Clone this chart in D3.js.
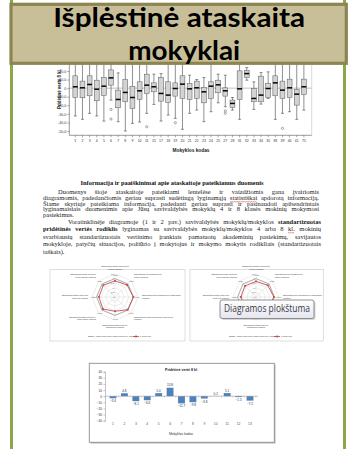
<!DOCTYPE html>
<html><head><meta charset="utf-8">
<script src="https://cdn.jsdelivr.net/npm/d3@7"></script>
<style>html,body{margin:0;padding:0;background:#fff;overflow:hidden}svg{display:block}</style>
</head><body>
<svg id="c" width="351" height="449"></svg>
<script>
// ---------------- DATA ----------------
const titleLines = ["Išplėstinė ataskaita", "mokyklai"];

const schoolCodes = ["1","2","3","4","5","6","7","8","9","10","11","15","17","18","19","20","21","22","23","24","25","27","28","31","32","33","34","35","38","39","40","41","75"];
const boxLow    = [-32.5,-36.4,-29.4,-32.5,-38.4,-14.0,-39.1,-50.0,-41.1,-39.5,-29.4,-19.0,-38.4,-31.4,-35.3,-48.0,-29.4,-25.6,-39.1,-27.5,-17.1,-21.7,-25.6,-36.4, 9.3,-24.8,-18.6,-12.0,-36.4,-29.4,-27.5,-36.4,-25.6];
const boxQ1     = [-10.9,-11.2, -8.9,-14.7, -8.5,  3.5,-22.9,-15.9,-23.6,-13.2, -6.2, -4.3,-15.1,-16.7, -9.3,-12.0,-13.2,-12.0,-17.1,-12.0, -5.4, -9.3,-22.5,-13.2,12.4,-15.9,-15.9,-10.9, -8.9,-12.0,-10.9,-19.8, -7.4];
const boxMedian = [  1.6,  0.4,  4.3, -1.2,  2.3, 12.0,-13.2, -5.0,-10.9, -3.1,  3.5,  1.6, -6.2, -8.1, -0.4,  4.7, -0.8,  0.4, -4.3,  2.3,  3.9, -3.1,-17.8, -0.8,17.0,-12.0, -8.1, -0.4,  6.2, -2.3,  0.4, -7.0,  1.6];
const boxQ3     = [ 14.4,  8.2, 14.4,  9.3, 12.4, 21.3, -2.3, 10.1,  2.0,  7.4, 16.3,  6.2, 12.4,  7.4,  6.2, 14.4,  5.4,  8.2,  0.8,  7.4,  9.3,  0.4,-13.9, 20.2,20.9, -0.4, 14.0,  5.4, 14.4,  8.2, 10.5, -1.5, 10.5];
const boxHigh   = [ 36.0, 30.0, 34.0, 29.0, 32.0, 38.0, 17.8, 35.0, 33.0, 32.0, 35.0, 16.3, 17.0, 30.0, 32.0, 36.0, 15.1, 10.1, 12.4, 30.0, 16.3, 15.1,-10.9, 35.0,24.0,  7.4, 18.2, 19.0, 33.0, 34.0, 31.0, 30.0, 30.0];
const boxOutliers = {"6":[-24.8,-36.0],"11":[-45.0],"19":[-40.3],"27":[-26.4,-29.4],"39":[-46.9]};
const boxYTicks = [20,10,0,-10,-20,-30,-40,-50];
const boxYTickLabels = ["20,0","10,0","0","-10,0","-20,0","-30,0","-40,0","-50,0"];
const boxYTitle = "Pridėtinė vertė 8 kl.";
const boxXTitle = "Mokyklos kodas";

const heading = "Informacija ir paaiškinimai apie ataskaitoje pateikiamus duomenis";
// *bold*  ~spelling-marked~
const para1 = [
  "Duomenys šioje ataskaitoje pateikiami lentelėse ir vaizdžiomis gana įvairiomis",
  "diagramomis, padedančiomis geriau suprasti sudėtingą lyginamąją ~statistiškai~ apdorotą informaciją.",
  "Šiame skyriuje pateikiama informacija, padedanti geriau suprasti ir pasinaudoti apibendrintais",
  "lyginamaisiais duomenimis apie Jūsų savivaldybės mokyklų 4 ir 8 klasės mokinių mokymosi",
  "pasiekimus."
];
const para2 = [
  "Voratinklinėje diagramoje (1 ir 2 pav.) savivaldybės mokyklų/mokyklos *standartizuotas*",
  "*pridėtinės vertės rodiklis* lyginamas su savivaldybės mokyklų/mokyklos 4 arba 8 ~kl.~ mokinių",
  "svarbiausių standartizuotais vertinimo įrankiais pamatuotų akademinių pasiekimų, savijautos",
  "mokykloje, patyčių situacijos, požiūrio į mokytojus ir mokymo mokytis rodikliais (standartizuotais",
  "taškais)."
];

const radarAxes = [
  ["Standartizuotas pridėtinės","vertės rodiklis"],
  ["Standartizuoti akademinių","testų rodikliai"],
  ["Standartizuoti akademinių pasiekimų","rodiklis"],
  ["Standartizuotas savijautos mokykloje","rodiklis"],
  ["Standartizuotas patyčių","situacijos rodiklis"],
  ["Standartizuotas požiūrio į","mokytojus rodiklis"],
  ["Standartizuotas mokymo","mokytis rodiklis"],
  ["Standartizuotas mokinių","motyvacijos rodiklis"]
];
const radarRingTicks = [-2,-1.5,-1,-0.5,0,0.5];
const radarAllSchools = [0,0,0,0,0,0,0,0];
const radarSchoolA = [-0.25,-0.15,0.0,-0.05,-0.45,-0.15,-0.25,-0.2];
const radarSchoolB = [-0.3,-0.2,-0.05,-0.25,-0.55,-0.3,-0.35,-0.3];
const radarLegend = ["Visos mokyklos (arba mokyklų) vidurkis","1 mokykla"];
const tooltipText = "Diagramos plokštuma";

const barTitle = "Pridėtinė vertė 8 kl.";
const barCats = ["1","2","3","4","5","6","7","8","9","10","11","12","13"];
const barValues = [-3.4,4.8,-8.1,-6.6,5.0,13.8,-11.7,-9.8,-3.8,0.2,5.1,-1.5,-7.2];
const barYTicks = [40,30,20,10,0,-10,-20,-30,-40];
const barXTitle = "Mokyklos kodas";

// ---------------- DRAW ----------------
const W = 351, H = 449;
// group opacity gives grayscale anti-aliasing for the tiny labels
const svg = d3.select("#c").append("g").attr("opacity", 0.999);
const SANS = "Arial, 'Liberation Sans', sans-serif";
const SERIF = "'Liberation Serif', 'Times New Roman', serif";

svg.append("rect").attr("width", W).attr("height", H).attr("fill", "#fff");
// page side borders
svg.append("rect").attr("x", 10).attr("y", 0).attr("width", 3).attr("height", H).attr("fill", "#8aa84a");
svg.append("rect").attr("x", 343).attr("y", 0).attr("width", 3).attr("height", H).attr("fill", "#8aa84a");

// ===== Box plot =====
const bx = d3.scaleBand().domain(schoolCodes).range([70.6, 308.6]).padding(0.32);
const by = d3.scaleLinear().domain([-55, 50]).range([135.3, 45.3]);
const gb = svg.append("g");
gb.append("line").attr("x1", 69.3).attr("x2", 311.7).attr("y1", by(0)).attr("y2", by(0))
  .attr("stroke", "#9a9a9a").attr("stroke-width", 0.6);
gb.append("line").attr("x1", 311.7).attr("x2", 311.7).attr("y1", 40).attr("y2", 135.3)
  .attr("stroke", "#cfcfcf").attr("stroke-width", 0.8);
schoolCodes.forEach((c, i) => {
  const x0 = bx(c), bw = bx.bandwidth(), cx = x0 + bw / 2;
  const ws = {stroke: "#444", "stroke-width": 0.6};
  const ln = (x1, y1, x2, y2, st) => { const l = gb.append("line").attr("x1", x1).attr("y1", y1).attr("x2", x2).attr("y2", y2); Object.entries(st).forEach(([k, v]) => l.attr(k, v)); };
  ln(cx, by(boxLow[i]), cx, by(boxQ1[i]), ws);
  ln(cx, by(boxQ3[i]), cx, by(boxHigh[i]), ws);
  ln(cx - bw * 0.3, by(boxLow[i]), cx + bw * 0.3, by(boxLow[i]), ws);
  ln(cx - bw * 0.3, by(boxHigh[i]), cx + bw * 0.3, by(boxHigh[i]), ws);
  gb.append("rect").attr("x", x0).attr("y", by(boxQ3[i])).attr("width", bw)
    .attr("height", by(boxQ1[i]) - by(boxQ3[i])).attr("fill", "#d3d3d3").attr("stroke", "#555").attr("stroke-width", 0.5);
  ln(x0, by(boxMedian[i]), x0 + bw, by(boxMedian[i]), {stroke: "#000", "stroke-width": 1.5});
  (boxOutliers[c] || []).forEach(v => {
    gb.append("circle").attr("cx", cx).attr("cy", by(v)).attr("r", 1.1).attr("fill", "none").attr("stroke", "#555").attr("stroke-width", 0.5);
  });
});
// axes
const yAx = gb.append("g").attr("transform", "translate(69.3,0)")
  .call(d3.axisLeft(by).tickValues(boxYTicks).tickSize(2).tickPadding(1).tickFormat((d, i) => boxYTickLabels[i]));
yAx.select(".domain").attr("d", `M0,40V135.3`).attr("stroke", "#555").attr("stroke-width", 0.6);
yAx.selectAll(".tick line").attr("stroke", "#555").attr("stroke-width", 0.5);
yAx.selectAll("text").attr("font-size", 3.6).attr("font-family", SANS).attr("fill", "#333");
const xAx = gb.append("g").attr("transform", "translate(0,135.3)")
  .call(d3.axisBottom(bx).tickSize(2).tickPadding(2));
xAx.select(".domain").attr("d", "M69.3,0H311.7").attr("stroke", "#555").attr("stroke-width", 0.6);
xAx.selectAll(".tick line").attr("stroke", "#555").attr("stroke-width", 0.5);
xAx.selectAll("text").attr("font-size", 3.5).attr("font-family", SANS).attr("fill", "#333");
gb.append("text").attr("transform", "translate(61,89) rotate(-90)").attr("text-anchor", "middle")
  .attr("font-size", 4.6).attr("font-weight", "bold").attr("font-family", SANS).attr("fill", "#222")
  .attr("textLength", 40).attr("lengthAdjust", "spacingAndGlyphs").text(boxYTitle);
gb.append("text").attr("x", 191).attr("y", 152).attr("text-anchor", "middle")
  .attr("font-size", 4.8).attr("font-weight", "bold").attr("font-family", SANS).attr("fill", "#222").text(boxXTitle);

// ===== Title banner =====
svg.append("rect").attr("x", 11).attr("y", 4.3).attr("width", 335.3).attr("height", 59)
  .attr("fill", "#c8bf98").attr("stroke", "#8c8551").attr("stroke-width", 3.2);
svg.append("text").attr("x", 179.2).attr("y", 27).attr("text-anchor", "middle")
  .attr("font-family", "Lato, 'Open Sans', sans-serif").attr("font-weight", "bold").attr("font-size", 27)
  .attr("textLength", 252).attr("lengthAdjust", "spacingAndGlyphs").attr("fill", "#000").text(titleLines[0]);
svg.append("text").attr("x", 184.2).attr("y", 59.5).attr("text-anchor", "middle")
  .attr("font-family", "Lato, 'Open Sans', sans-serif").attr("font-weight", "bold").attr("font-size", 27)
  .attr("textLength", 112).attr("lengthAdjust", "spacingAndGlyphs").attr("fill", "#000").text(titleLines[1]);

// ===== Text =====
const gt = svg.append("g");
gt.append("text").attr("x", 172).attr("y", 185).attr("text-anchor", "middle")
  .attr("font-family", SERIF).attr("font-weight", "bold").attr("font-size", 6.6).attr("fill", "#111")
  .attr("textLength", 183).attr("lengthAdjust", "spacingAndGlyphs").text(heading);

function parseLine(s) {
  let bold = false;
  return s.split(" ").map(w => {
    let spell = false;
    if (w.startsWith("*")) { bold = true; w = w.slice(1); }
    let endB = false;
    if (w.endsWith("*")) { endB = true; w = w.slice(0, -1); }
    if (w.startsWith("~") && w.endsWith("~")) { spell = true; w = w.slice(1, -1); }
    const o = {t: w, b: bold, s: spell};
    if (endB) bold = false;
    return o;
  });
}
function drawLine(str, x0, x1, y, size, justify) {
  const words = parseLine(str);
  const els = words.map(w => gt.append("text").attr("y", y).attr("font-family", SERIF)
    .attr("font-size", size).attr("font-weight", w.b ? "bold" : "normal").attr("fill", "#1b1b1b").text(w.t));
  const widths = els.map(e => e.node().getComputedTextLength());
  const total = d3.sum(widths);
  const gap = justify && words.length > 1 ? (x1 - x0 - total) / (words.length - 1) : size * 0.25;
  let x = x0;
  els.forEach((e, i) => {
    e.attr("x", x);
    if (words[i].s) {
      const w = widths[i];
      const pts = d3.range(0, Math.floor(w / 1.2) + 1).map(k => [x + k * 1.2, y + 1.4 + (k % 2 ? 0.7 : 0)]);
      gt.append("path").attr("d", d3.line()(pts)).attr("fill", "none").attr("stroke", "#e02020").attr("stroke-width", 0.5);
    }
    x += widths[i] + gap;
  });
}
const p1y = [194, 200, 205.5, 211, 216.5];
para1.forEach((s, i) => drawLine(s, i === 0 ? 58 : 43, 319, p1y[i], 6.5, i < para1.length - 1));
const p2y = [223.5, 231, 238.8, 246.3, 253.8];
para2.forEach((s, i) => drawLine(s, i === 0 ? 68 : 43, 321, p2y[i], 6.5, i < para2.length - 1));

// ===== Radar panels =====
function radar(px, py, pw, ph, cx, cy, R, school) {
  const g = svg.append("g");
  g.append("rect").attr("x", px).attr("y", py).attr("width", pw).attr("height", ph)
    .attr("fill", "#fff").attr("stroke", "#d0d0d0").attr("stroke-width", 0.7);
  const n = radarAxes.length;
  const r = d3.scaleLinear().domain([-2, 0.5]).range([0, R]);
  const ang = i => -Math.PI / 2 + i * 2 * Math.PI / n;
  const pt = (i, v) => [cx + r(v) * Math.cos(ang(i)), cy + r(v) * Math.sin(ang(i))];
  const closed = d3.line().curve(d3.curveLinearClosed);
  radarRingTicks.slice(1).forEach(t => {
    g.append("path").attr("d", closed(d3.range(n).map(i => pt(i, t)))).attr("fill", "none")
      .attr("stroke", "#d9d9d9").attr("stroke-width", 0.5);
  });
  d3.range(n).forEach(i => {
    const [x, y] = pt(i, 0.5);
    g.append("line").attr("x1", cx).attr("y1", cy).attr("x2", x).attr("y2", y).attr("stroke", "#d9d9d9").attr("stroke-width", 0.5);
  });
  radarRingTicks.forEach(t => {
    g.append("text").attr("x", cx - 1).attr("y", cy - r(t) + 0.8).attr("text-anchor", "end")
      .attr("font-size", 2.3).attr("font-family", SANS).attr("fill", "#666").text(String(t).replace(".", ","));
  });
  g.append("path").attr("d", closed(radarAllSchools.map((v, i) => pt(i, v)))).attr("fill", "none")
    .attr("stroke", "#a5a5a5").attr("stroke-width", 0.9);
  g.append("path").attr("d", closed(school.map((v, i) => pt(i, v)))).attr("fill", "none")
    .attr("stroke", "#c0504d").attr("stroke-width", 0.9);
  school.forEach((v, i) => {
    const [x, y] = pt(i, v);
    g.append("rect").attr("x", x - 0.9).attr("y", y - 0.9).attr("width", 1.8).attr("height", 1.8).attr("fill", "#c0504d");
    const [lx, ly] = pt(i, 0.42);
    g.append("text").attr("x", lx).attr("y", ly + 0.8).attr("text-anchor", "middle").attr("font-size", 2.2)
      .attr("font-family", SANS).attr("fill", "#555").text(d3.format(".2f")(v).replace(".", ","));
  });
  radarAxes.forEach((lab, i) => {
    const a = ang(i), c = Math.cos(a), s = Math.sin(a);
    const lx = cx + (R + 4) * c, ly = cy + (R + 4) * s;
    const anchor = Math.abs(c) < 0.2 ? "middle" : (c > 0 ? "start" : "end");
    const dy = s < -0.5 ? -3 : (s > 0.5 ? 1.5 : -1);
    lab.forEach((t, k) => {
      g.append("text").attr("x", lx).attr("y", ly + dy + k * 2.8).attr("text-anchor", anchor)
        .attr("font-size", 2.4).attr("font-family", SANS).attr("fill", "#444").text(t);
    });
  });
  // legend
  const ly = py + ph - 4.5;
  const lx0 = cx - 27;
  g.append("line").attr("x1", lx0).attr("x2", lx0 + 6).attr("y1", ly).attr("y2", ly).attr("stroke", "#a5a5a5").attr("stroke-width", 0.9);
  g.append("text").attr("x", lx0 + 7).attr("y", ly + 0.8).attr("font-size", 2.4).attr("font-family", SANS).attr("fill", "#444").text(radarLegend[0]);
  g.append("line").attr("x1", cx + 18).attr("x2", cx + 24).attr("y1", ly).attr("y2", ly).attr("stroke", "#c0504d").attr("stroke-width", 0.9);
  g.append("rect").attr("x", cx + 20.1).attr("y", ly - 0.9).attr("width", 1.8).attr("height", 1.8).attr("fill", "#c0504d");
  g.append("text").attr("x", cx + 25).attr("y", ly + 0.8).attr("font-size", 2.4).attr("font-family", SANS).attr("fill", "#444").text(radarLegend[1]);
  return g;
}
radar(50, 269.5, 135, 71.5, 115, 297, 23, radarSchoolA);
const rightRadar = radar(190, 269.5, 133.3, 71.5, 256, 297, 23, radarSchoolB);

// tooltip (covers part of the right radar, as in the screenshot)
const TT = {x: 220, y: 300, w: 94, h: 18.5};
rightRadar.selectAll("text").each(function () {
  const b = this.getBBox();
  if (b.x < TT.x + TT.w && b.x + b.width > TT.x && b.y < TT.y + TT.h && b.y + b.height > TT.y) d3.select(this).remove();
});
const tg = svg.append("g");
const grad = svg.append("defs").append("linearGradient").attr("id", "tt").attr("x1", 0).attr("y1", 0).attr("x2", 0).attr("y2", 1);
grad.append("stop").attr("offset", 0).attr("stop-color", "#ffffff");
grad.append("stop").attr("offset", 1).attr("stop-color", "#e4e5f0");
tg.append("rect").attr("x", TT.x + 1.5).attr("y", TT.y + 1.5).attr("width", TT.w).attr("height", TT.h).attr("rx", 2)
  .attr("fill", "#8a8a8a").attr("opacity", 0.35);
tg.append("rect").attr("x", TT.x).attr("y", TT.y).attr("width", TT.w).attr("height", TT.h).attr("rx", 2)
  .attr("fill", "url(#tt)").attr("stroke", "#767676").attr("stroke-width", 0.8);
tg.append("text").attr("x", TT.x + 47).attr("y", 312.3).attr("text-anchor", "middle")
  .attr("font-family", "'Open Sans', 'Noto Sans', sans-serif").attr("font-size", 10).attr("fill", "#3b3b3b")
  .attr("textLength", 86).attr("lengthAdjust", "spacingAndGlyphs").text(tooltipText);

// ===== Bar chart =====
const gc = svg.append("g");
gc.append("rect").attr("x", 90.5).attr("y", 364.5).attr("width", 185).attr("height", 79).attr("fill", "#b5b5b5");
gc.append("rect").attr("x", 89.3).attr("y", 363.3).attr("width", 185).attr("height", 79)
  .attr("fill", "#fff").attr("stroke", "#8f8f8f").attr("stroke-width", 0.9);
const cx = d3.scaleBand().domain(barCats).range([105, 258]).padding(0.4);
const cy = d3.scaleLinear().domain([-40, 40]).range([420.7, 371.7]);
gc.append("text").attr("x", 181.5).attr("y", 370.5).attr("text-anchor", "middle").attr("font-size", 3.6)
  .attr("font-weight", "bold").attr("font-family", SANS).attr("fill", "#222").text(barTitle);
const cyAx = gc.append("g").attr("transform", "translate(105,0)")
  .call(d3.axisLeft(cy).tickValues(barYTicks).tickSize(1.5).tickPadding(1.5));
cyAx.select(".domain").attr("stroke", "#888").attr("stroke-width", 0.5);
cyAx.selectAll(".tick line").attr("stroke", "#888").attr("stroke-width", 0.5);
cyAx.selectAll("text").attr("font-size", 3.2).attr("font-family", SANS).attr("fill", "#333");
gc.selectAll("rect.bar").data(barValues).join("rect").attr("class", "bar")
  .attr("x", (d, i) => cx(barCats[i])).attr("width", cx.bandwidth())
  .attr("y", d => cy(Math.max(0, d))).attr("height", d => Math.abs(cy(d) - cy(0)))
  .attr("fill", "#4f81bd");
gc.append("line").attr("x1", 105).attr("x2", 258).attr("y1", cy(0)).attr("y2", cy(0)).attr("stroke", "#888").attr("stroke-width", 0.5);
gc.selectAll("line.xt").data(barCats).join("line").attr("class", "xt")
  .attr("x1", d => cx(d) + cx.bandwidth() / 2 + cx.step() / 2).attr("x2", d => cx(d) + cx.bandwidth() / 2 + cx.step() / 2)
  .attr("y1", cy(0)).attr("y2", cy(0) + 1.2).attr("stroke", "#888").attr("stroke-width", 0.4);
gc.selectAll("text.vl").data(barValues).join("text").attr("class", "vl")
  .attr("x", (d, i) => cx(barCats[i]) + cx.bandwidth() / 2)
  .attr("y", d => d >= 0 ? cy(d) - 1.5 : cy(d) + 4)
  .attr("text-anchor", "middle").attr("font-size", 3.1).attr("font-family", SANS).attr("fill", "#333")
  .text(d => d3.format(".1f")(d));
gc.selectAll("text.xl").data(barCats).join("text").attr("class", "xl")
  .attr("x", d => cx(d) + cx.bandwidth() / 2).attr("y", 424.5).attr("text-anchor", "middle")
  .attr("font-size", 3.4).attr("font-family", SANS).attr("fill", "#555").text(d => d);
gc.append("text").attr("x", 181).attr("y", 435).attr("text-anchor", "middle").attr("font-size", 3.4)
  .attr("font-family", SANS).attr("fill", "#333").text(barXTitle);
</script>
</body></html>
